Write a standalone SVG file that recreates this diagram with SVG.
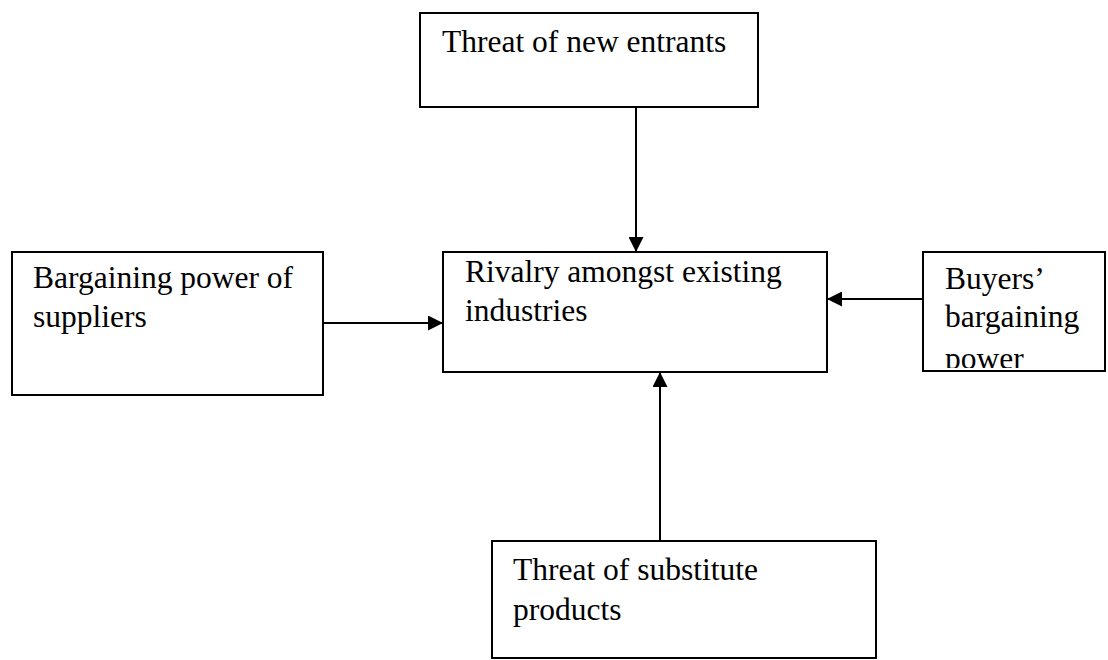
<svg xmlns="http://www.w3.org/2000/svg" width="1108" height="660" viewBox="0 0 1108 660">
<style>
.box{fill:#fff;stroke:#000;stroke-width:2}
.t{font-family:"Liberation Serif","Times New Roman",serif;font-size:31.5px;fill:#000}
.c{stroke:#000;stroke-width:2;fill:none}
</style>
<defs>
<marker id="ah" viewBox="0 0 10 10" refX="10" refY="5" markerWidth="15" markerHeight="15" markerUnits="userSpaceOnUse" orient="auto">
<path d="M0,0 L10,5 L0,10 z" fill="#000"/>
</marker>
<clipPath id="clipBuyers"><rect x="924" y="253" width="180" height="115"/></clipPath>
</defs>
<rect width="1108" height="660" fill="#fff"/>
<g id="connectors">
<line class="c" x1="636" y1="107" x2="636" y2="252" marker-end="url(#ah)"/>
<line class="c" x1="323" y1="323" x2="443" y2="323" marker-end="url(#ah)"/>
<line class="c" x1="923" y1="299" x2="827" y2="299" marker-end="url(#ah)"/>
<line class="c" x1="660" y1="541" x2="660" y2="372" marker-end="url(#ah)"/>
</g>
<g id="new-entrants">
<rect class="box" x="420" y="13" width="338" height="94"/>
<text class="t" x="442" y="52">Threat of new entrants</text>
</g>
<g id="suppliers">
<rect class="box" x="12" y="252" width="311" height="143"/>
<text class="t" x="33" y="288">Bargaining power of</text>
<text class="t" x="33" y="327">suppliers</text>
</g>
<g id="rivalry">
<rect class="box" x="443" y="252" width="384" height="120"/>
<text class="t" x="465" y="282">Rivalry amongst existing</text>
<text class="t" x="465" y="321">industries</text>
</g>
<g id="buyers">
<rect class="box" x="923" y="252" width="182" height="119"/>
<g clip-path="url(#clipBuyers)">
<text class="t" x="945" y="289">Buyers’</text>
<text class="t" x="945" y="327">bargaining</text>
<text class="t" x="945" y="369">power</text>
</g>
</g>
<g id="substitutes">
<rect class="box" x="492" y="541" width="384" height="117"/>
<text class="t" x="513" y="580">Threat of substitute</text>
<text class="t" x="513" y="620">products</text>
</g>
</svg>
